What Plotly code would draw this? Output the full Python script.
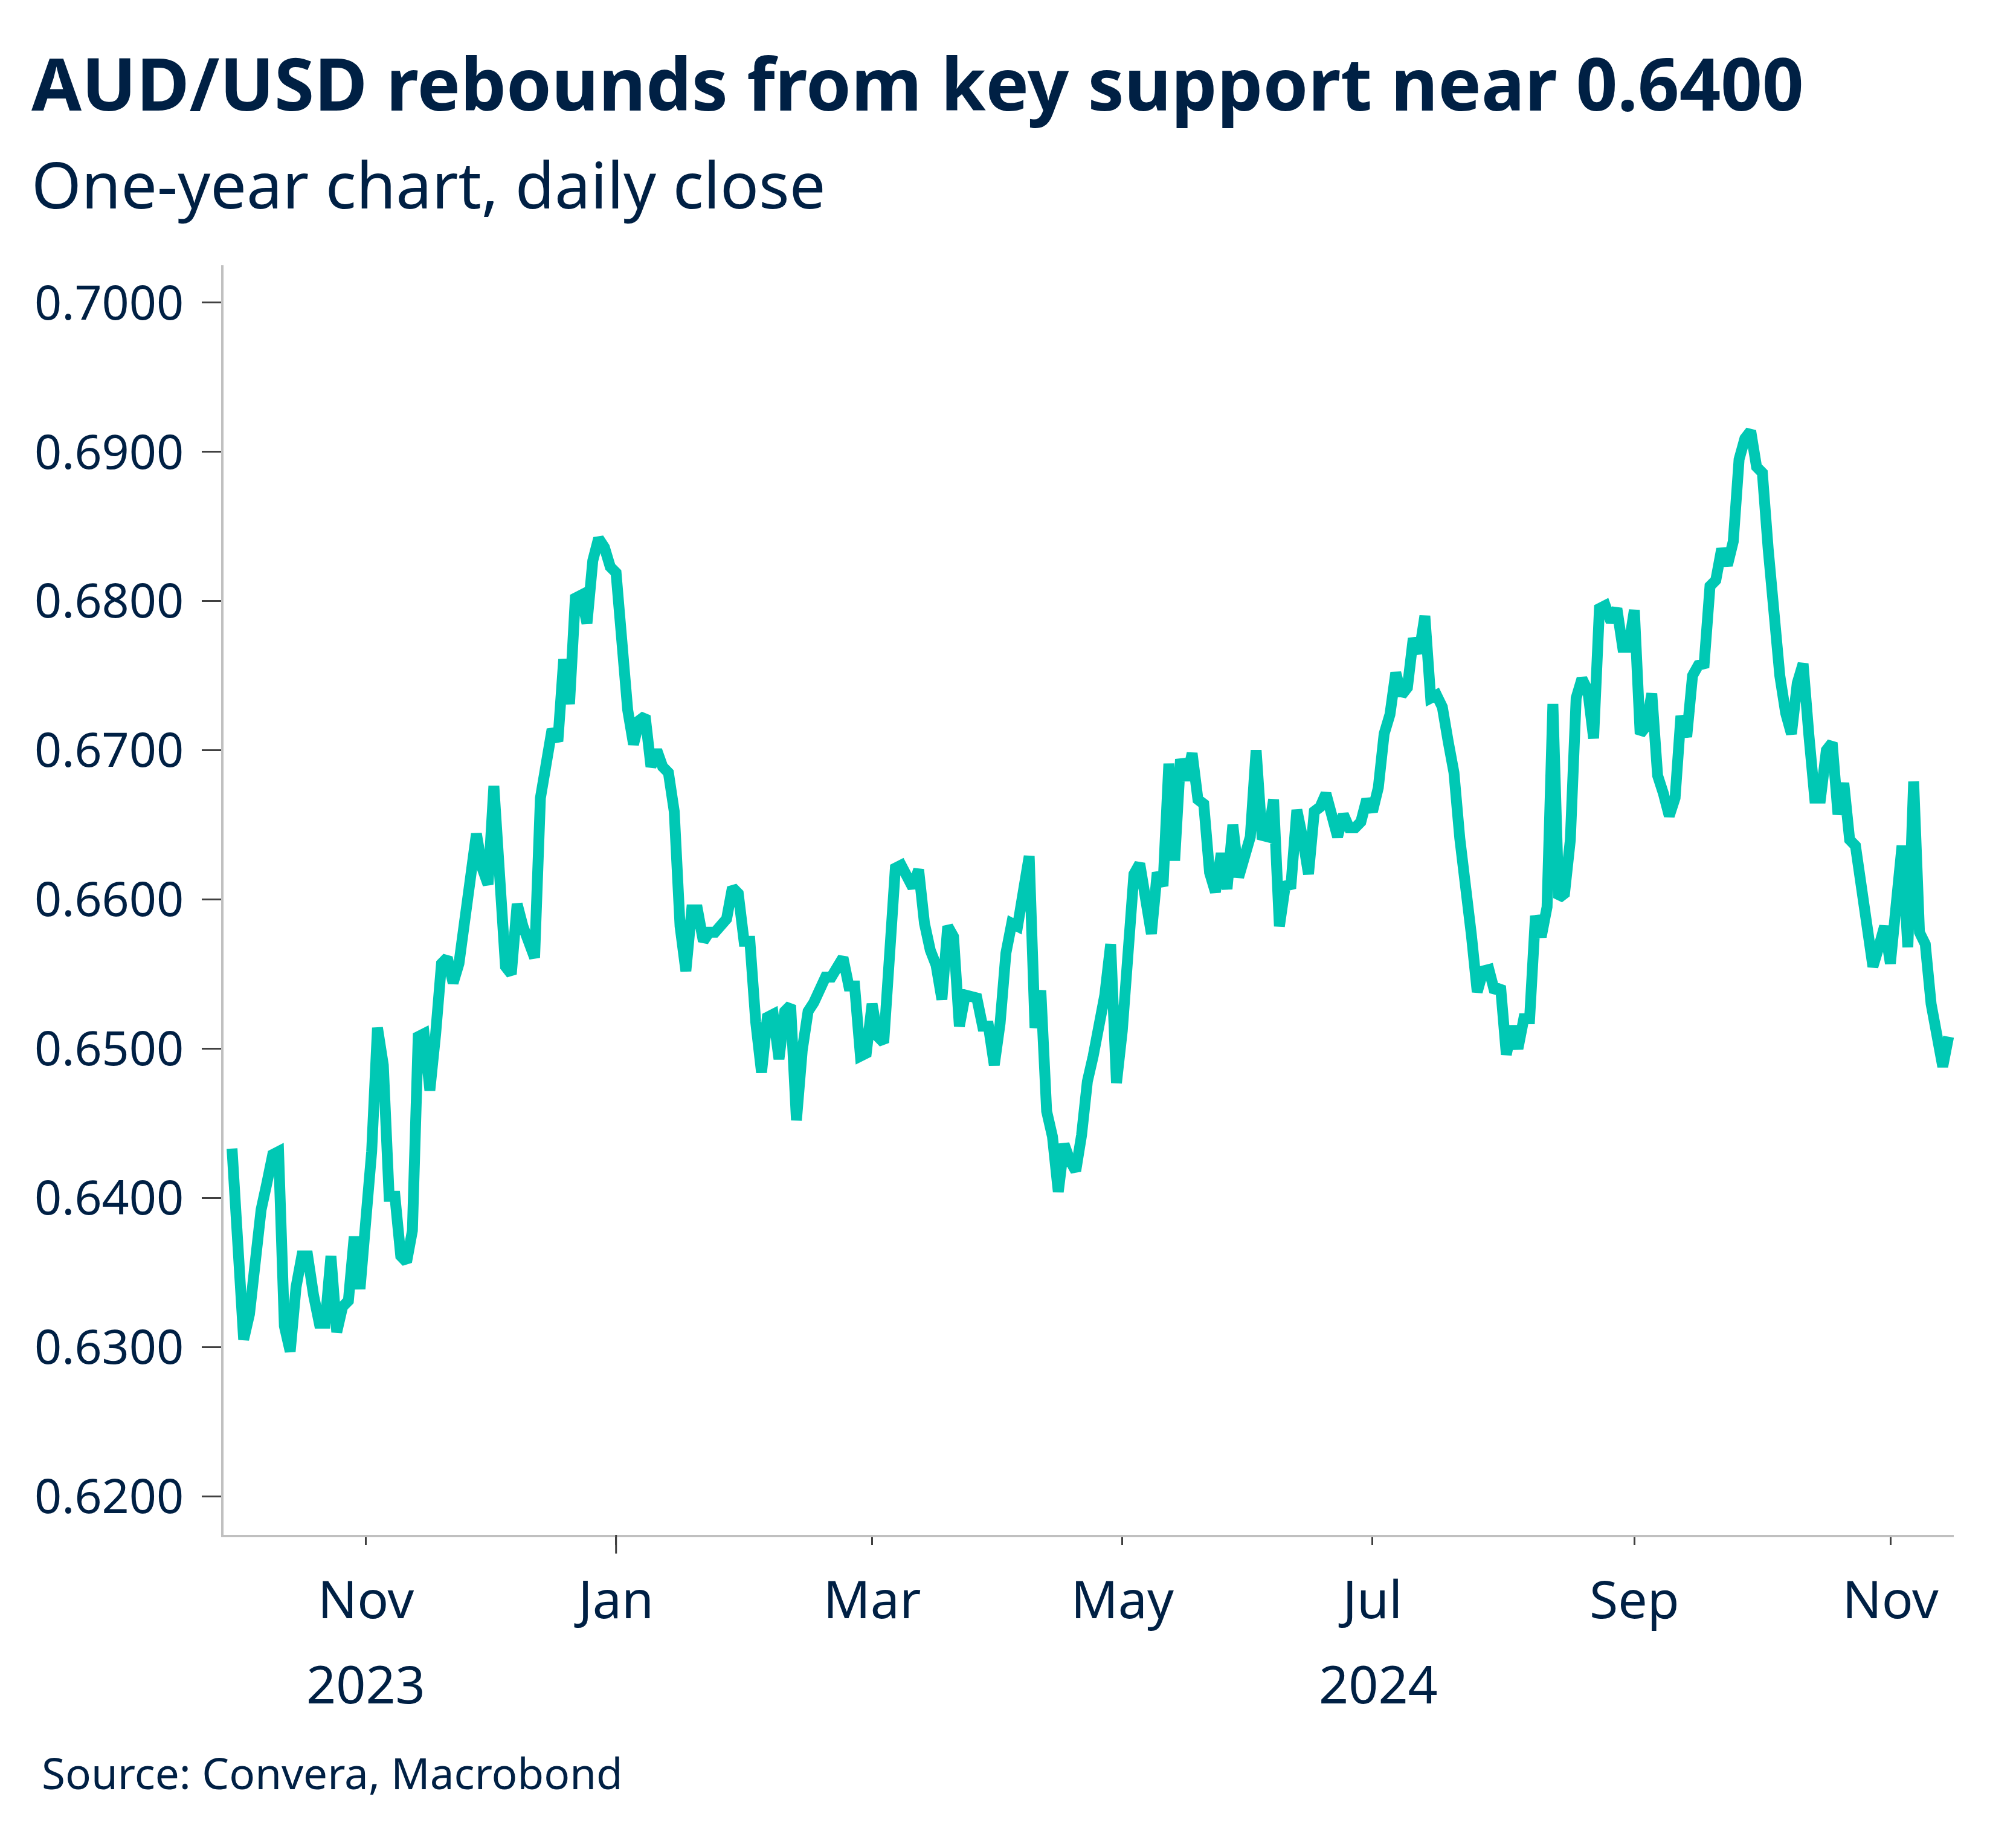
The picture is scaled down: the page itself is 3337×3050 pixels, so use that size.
import pandas as pd
import plotly.graph_objects as go

# ---- data (daily close, business days 2023-09-29 .. 2024-11-15) ----
start_date = "2023-09-29"
end_date = "2024-11-15"
aud_usd = [
    0.6433, 0.6363, 0.6305, 0.6322, 0.6367, 0.6392, 0.6410, 0.6429, 0.6431, 0.6314,
    0.6297, 0.6340, 0.6361, 0.6361, 0.6335, 0.6316, 0.6316, 0.6361, 0.6310, 0.6327,
    0.6331, 0.6374, 0.6339,
    # Nov 2023
    0.6386, 0.6431, 0.6514, 0.6489, 0.6401, 0.6401, 0.6361, 0.6357, 0.6378, 0.6508,
    0.6510, 0.6472, 0.6510, 0.6557, 0.6561, 0.6544, 0.6557, 0.6587, 0.6606, 0.6644,
    0.6621, 0.6610,
    # Dec 2023
    0.6676, 0.6621, 0.6555, 0.6550, 0.6597, 0.6582, 0.6570, 0.6561, 0.6668, 0.6689,
    0.6714, 0.6706, 0.6761, 0.6731, 0.6802, 0.6804, 0.6785, 0.6827, 0.6842, 0.6836,
    0.6823,
    # Jan 2024
    0.6819, 0.6761, 0.6727, 0.6704, 0.6720, 0.6723, 0.6689, 0.6700, 0.6689, 0.6685,
    0.6659, 0.6582, 0.6552, 0.6593, 0.6593, 0.6572, 0.6578, 0.6578, 0.6582, 0.6587,
    0.6608, 0.6604, 0.6572,
    # Feb 2024
    0.6572, 0.6518, 0.6484, 0.6521, 0.6523, 0.6493, 0.6525, 0.6529, 0.6452, 0.6499,
    0.6525, 0.6531, 0.6538, 0.6548, 0.6548, 0.6555, 0.6561, 0.6542, 0.6542, 0.6495,
    0.6497,
    # Mar 2024
    0.6530, 0.6508, 0.6504, 0.6560, 0.6621, 0.6623, 0.6615, 0.6608, 0.6620, 0.6584,
    0.6566, 0.6556, 0.6533, 0.6582, 0.6575, 0.6515, 0.6536, 0.6535, 0.6534, 0.6515,
    0.6515,
    # Apr 2024
    0.6489, 0.6517, 0.6564, 0.6584, 0.6582, 0.6605, 0.6629, 0.6514, 0.6539, 0.6458,
    0.6441, 0.6404, 0.6436, 0.6425, 0.6418, 0.6442, 0.6478, 0.6495, 0.6514, 0.6536,
    0.6570, 0.6477,
    # May 2024
    0.6512, 0.6558, 0.6617, 0.6624, 0.6603, 0.6577, 0.6618, 0.6609, 0.6691, 0.6626,
    0.6694, 0.6680, 0.6698, 0.6667, 0.6664, 0.6618, 0.6605, 0.6631, 0.6607, 0.6650,
    0.6615, 0.6631, 0.6642,
    # Jun 2024
    0.6700, 0.6643, 0.6642, 0.6667, 0.6582, 0.6609, 0.6610, 0.6660, 0.6641, 0.6617,
    0.6659, 0.6662, 0.6671, 0.6655, 0.6642, 0.6657, 0.6648, 0.6648, 0.6652, 0.6667,
    # Jul 2024
    0.6659, 0.6675, 0.6711, 0.6724, 0.6752, 0.6737, 0.6742, 0.6775, 0.6765, 0.6790,
    0.6735, 0.6737, 0.6729, 0.6706, 0.6685, 0.6641, 0.6613, 0.6576, 0.6538, 0.6552,
    0.6553, 0.6538, 0.6542,
    # Aug 2024
    0.6496, 0.6515, 0.6500, 0.6520, 0.6520, 0.6589, 0.6575, 0.6595, 0.6731, 0.6601,
    0.6604, 0.6640, 0.6735, 0.6748, 0.6740, 0.6708, 0.6795, 0.6797, 0.6786, 0.6795,
    0.6769, 0.6769,
    # Sep 2024
    0.6794, 0.6711, 0.6716, 0.6738, 0.6683, 0.6671, 0.6656, 0.6668, 0.6723, 0.6709,
    0.6750, 0.6757, 0.6758, 0.6810, 0.6814, 0.6835, 0.6824, 0.6840, 0.6895, 0.6909,
    0.6914,
    # Oct 2024
    0.6890, 0.6886, 0.6835, 0.6780, 0.6750, 0.6725, 0.6711, 0.6745, 0.6758, 0.6710,
    0.6668, 0.6668, 0.6700, 0.6705, 0.6657, 0.6678, 0.6640, 0.6636, 0.6610, 0.6585,
    0.6555, 0.6568, 0.6582,
    # Nov 2024
    0.6557, 0.6597, 0.6636, 0.6568, 0.6679, 0.6578, 0.6570, 0.6530, 0.6505, 0.6488,
    0.6508,
]
dates = pd.bdate_range(start_date, end_date)
n = min(len(dates), len(aud_usd))
dates = dates[:n]
aud_usd = aud_usd[:n]

x_tick_dates = ["2023-11-01", "2024-01-01", "2024-03-01", "2024-05-01",
                "2024-07-01", "2024-09-02", "2024-11-01"]
x_tick_labels = ["Nov", "Jan", "Mar", "May", "Jul", "Sep", "Nov"]
year_labels = ["2023", "2024"]
year_label_dates = ["2023-11-01", "2024-07-02"]
y_tick_vals = [0.62, 0.63, 0.64, 0.65, 0.66, 0.67, 0.68, 0.69, 0.70]

TITLE = "AUD/USD rebounds from key support near 0.6400"
SUBTITLE = "One-year chart, daily close"
SOURCE = "Source: Convera, Macrobond"

# ---- styling ----
FONT = "Noto Sans"
TEXT = "#002044"
LINE = "#00C8B4"
AXIS = "#C0C0C0"
TICK = "#404040"

W, H = 3337, 3050
ML, MR, MT, MB = 370, 103, 439, 510
PH = H - MT - MB
PW = W - ML - MR


def px_x(p):
    return (p - ML) / PW


def px_y(p):
    return (H - MB - p) / PH


fig = go.Figure()
fig.add_trace(go.Scatter(
    x=dates, y=aud_usd, mode="lines",
    line=dict(color=LINE, width=18),
    hoverinfo="skip", showlegend=False,
))

fig.update_layout(
    width=W, height=H,
    margin=dict(l=ML, r=MR, t=MT, b=MB, pad=0),
    paper_bgcolor="white", plot_bgcolor="white",
    font=dict(family=FONT, color=TEXT),
    showlegend=False,
)

fig.update_xaxes(
    type="date",
    rangebreaks=[dict(bounds=["sat", "mon"])],
    range=["2023-09-27 13:00", "2024-11-15 21:30"],
    tickmode="array", tickvals=x_tick_dates, ticktext=x_tick_labels,
    ticks="outside", ticklen=13, tickwidth=3, tickcolor=TICK,
    tickfont=dict(family=FONT, size=86, color=TEXT),
    ticklabelstandoff=18,
    showline=True, linecolor=AXIS, linewidth=4,
    showgrid=False, zeroline=False,
)
fig.update_yaxes(
    range=[0.61741, 0.70251],
    tickmode="array", tickvals=y_tick_vals, tickformat=".4f",
    ticks="outside", ticklen=32, tickwidth=3, tickcolor=TICK,
    tickfont=dict(family=FONT, size=79, color=TEXT),
    ticklabelstandoff=14,
    showline=True, linecolor=AXIS, linewidth=4,
    showgrid=False, zeroline=False,
)

# longer tick at the year boundary
fig.add_shape(type="line", xref="x", yref="paper",
              x0="2024-01-01", x1="2024-01-01", y0=0, y1=-31 / PH,
              line=dict(color=TICK, width=3))

annotations = [
    dict(text=TITLE, x=px_x(50), y=px_y(53), xanchor="left", yanchor="top",
         font=dict(family=FONT, size=120, color=TEXT, weight=700)),
    dict(text=SUBTITLE, x=px_x(50), y=px_y(230), xanchor="left", yanchor="top",
         font=dict(family=FONT, size=106, color=TEXT)),
    dict(text=SOURCE, x=px_x(67), y=px_y(2883), xanchor="left", yanchor="top",
         font=dict(family=FONT, size=71, color=TEXT)),
]
for lbl, d in zip(year_labels, year_label_dates):
    annotations.append(dict(text=lbl, x=d, xref="x", y=px_y(2725), yref="paper",
                            xanchor="center", yanchor="top",
                            font=dict(family=FONT, size=86, color=TEXT)))
for a in annotations:
    a.setdefault("xref", "paper")
    a.setdefault("yref", "paper")
    a["showarrow"] = False
fig.update_layout(annotations=annotations)

fig.write_html("out.html")
